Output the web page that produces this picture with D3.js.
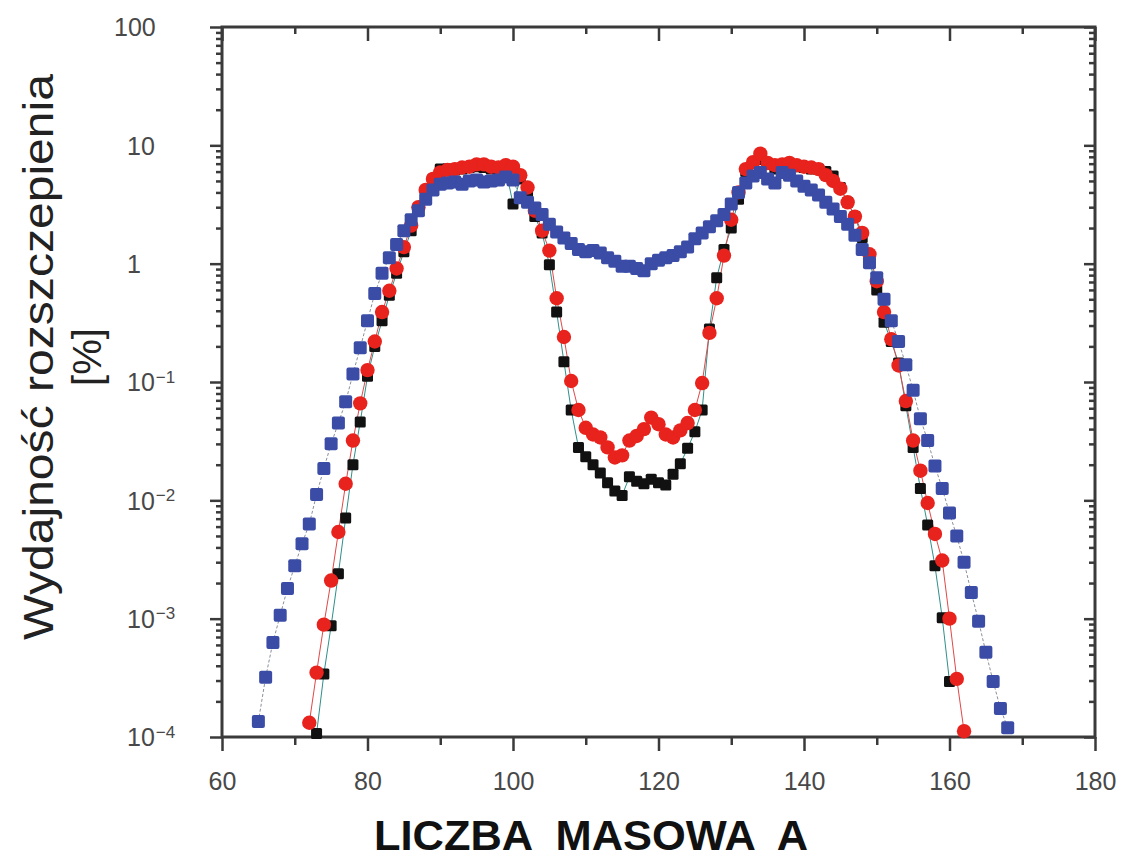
<!DOCTYPE html>
<html><head><meta charset="utf-8">
<script src="https://cdn.jsdelivr.net/npm/d3@7"></script>
<style>body{margin:0;background:#fff}svg{display:block}</style>
</head><body><svg id="c" width="1125" height="861"></svg>
<script>
// Mass number A for each series (one point per integer A)
const blueStart = 65;
const blueYield = [1.35e-4,3.2e-4,6.3e-4,1.07e-3,1.8e-3,2.8e-3,4.3e-3,6.3e-3,1.12e-2,1.86e-2,
  3.0e-2,4.5e-2,6.8e-2,0.117,0.195,0.33,0.56,0.83,1.12,1.45,
  1.9,2.35,2.8,3.5,4.2,4.7,4.8,4.9,4.7,5.0,
  5.1,4.9,5.0,5.1,5.4,5.1,3.6,3.3,2.95,2.6,
  2.15,1.85,1.65,1.48,1.32,1.26,1.29,1.23,1.12,1.05,
  0.95,0.95,0.91,0.87,1.0,1.07,1.12,1.17,1.26,1.38,
  1.62,1.82,2.05,2.3,2.6,3.2,4.0,4.8,5.5,5.9,
  5.2,4.8,5.9,5.6,5.0,4.5,4.2,3.8,3.3,2.9,
  2.5,2.15,1.74,1.32,1.02,0.76,0.50,0.33,0.22,0.14,
  0.085,0.049,0.032,0.0195,0.0126,0.0078,0.0050,0.0030,0.00166,0.00095,
  0.00052,0.000295,0.000174,0.00012];
const redStart = 72;
const redYield = [1.32e-4,3.5e-4,8.9e-4,2.1e-3,5.4e-3,1.38e-2,3.2e-2,6.6e-2,0.126,0.22,
  0.39,0.59,0.91,1.38,2.1,3.0,4.2,5.2,5.9,6.2,
  6.3,6.5,6.6,6.9,6.9,6.6,6.5,6.8,6.6,5.6,
  4.4,2.8,1.9,1.29,0.51,0.24,0.102,0.058,0.041,0.036,
  0.034,0.028,0.023,0.024,0.032,0.035,0.040,0.050,0.044,0.036,
  0.034,0.039,0.045,0.058,0.098,0.26,0.51,1.17,2.35,4.0,
  6.3,7.2,8.5,7.1,6.8,6.9,7.1,6.8,6.6,6.5,
  6.3,5.6,5.0,4.3,3.3,2.5,1.82,1.2,0.71,0.39,
  0.23,0.138,0.069,0.032,0.0178,0.0095,0.0052,0.0031,0.0010,0.00031,
  0.000112];
const blackStart = 73;
const blackYield = [1.07e-4,3.4e-4,8.7e-4,2.4e-3,7.1e-3,2.0e-2,4.6e-2,0.112,0.20,0.33,
  0.54,0.83,1.26,1.9,2.8,4.0,5.2,6.3,6.3,6.2,
  6.3,6.5,6.6,6.5,6.3,6.3,6.3,3.2,5.2,3.8,
  2.5,1.82,0.98,0.39,0.148,0.058,0.028,0.0234,0.020,0.017,
  0.0141,0.0120,0.0110,0.0158,0.0145,0.0138,0.0151,0.0141,0.0135,0.0166,
  0.0204,0.0275,0.038,0.058,0.28,0.76,1.32,2.0,3.5,6.0,
  7.1,7.6,6.9,6.3,6.6,6.8,6.6,6.5,6.3,6.3,
  6.0,5.5,4.4,3.3,2.5,1.66,1.07,0.60,0.32,0.22,
  0.145,0.063,0.028,0.0126,0.0062,0.0028,0.00102,0.000295];

const xMajor = [60,80,100,120,140,160,180];
const xMinor = [70,90,110,130,150,170];
const yDecades = [1e-4,1e-3,1e-2,1e-1,1,10,100];
const yLabels = [["10","-4"],["10","-3"],["10","-2"],["10","-1"],["1",""],["10",""],["100",""]];
const xTitle = "LICZBA  MASOWA  A";
const yTitle1 = "Wydajność rozszczepienia";
const yTitle2 = "[%]";

const toPts = (start, arr) => arr.map((v,i)=>({a:start+i, v}));
const blue = toPts(blueStart, blueYield);
const red = toPts(redStart, redYield);
const black = toPts(blackStart, blackYield);

const svg = d3.select("#c");
const L=222, R=1095, T=27, B=737;
const x = d3.scaleLinear().domain([60,180]).range([L,R]);
const y = d3.scaleLog().domain([1e-4,100]).range([B,T]);

const font = "'Liberation Sans', Arial, Helvetica, sans-serif";
const axisCol = "#3a3a3a";
const labCol = "#484848";

// minor log ticks
const yMinor = [];
for (let d=-4; d<2; d++) for (let k=2;k<=9;k++) yMinor.push(k*Math.pow(10,d));

function styleAxis(g){
  g.select(".domain").remove();
  g.selectAll(".tick line").attr("stroke",axisCol).attr("stroke-width",2.5);
}
// bottom
svg.append("g").attr("transform",`translate(0,${B})`)
  .call(d3.axisBottom(x).tickValues(xMajor).tickSize(14).tickPadding(21).tickFormat(d3.format("d")))
  .call(styleAxis)
  .call(g=>g.selectAll("text").attr("font-family",font).attr("font-size",25).attr("fill",labCol));
svg.append("g").attr("transform",`translate(0,${B})`)
  .call(d3.axisBottom(x).tickValues(xMinor).tickSize(8).tickFormat(""))
  .call(styleAxis);
// top (inward)
svg.append("g").attr("transform",`translate(0,${T})`)
  .call(d3.axisTop(x).tickValues(xMajor).tickSize(-14).tickFormat(""))
  .call(styleAxis);
svg.append("g").attr("transform",`translate(0,${T})`)
  .call(d3.axisTop(x).tickValues(xMinor).tickSize(-7).tickFormat(""))
  .call(styleAxis);
// left (outward)
const leftG = svg.append("g").attr("transform",`translate(${L},0)`)
  .call(d3.axisLeft(y).tickValues(yDecades).tickSize(12).tickFormat(""))
  .call(styleAxis);
svg.append("g").attr("transform",`translate(${L},0)`)
  .call(d3.axisLeft(y).tickValues(yMinor).tickSize(6).tickFormat(""))
  .call(styleAxis);
// right (inward)
svg.append("g").attr("transform",`translate(${R},0)`)
  .call(d3.axisRight(y).tickValues(yDecades).tickSize(-11).tickFormat(""))
  .call(styleAxis);
svg.append("g").attr("transform",`translate(${R},0)`)
  .call(d3.axisRight(y).tickValues(yMinor).tickSize(-6).tickFormat(""))
  .call(styleAxis);

// y tick labels with superscripts
leftG.selectAll(".tick").each(function(d){
  const lab = yLabels[yDecades.indexOf(d)];
  const t = d3.select(this).append("text")
    .attr("x", lab[0]==="100" ? -108 : -95).attr("y",0).attr("dy","0.35em")
    .attr("text-anchor","start").attr("font-family",font).attr("font-size",25).attr("fill",labCol);
  t.append("tspan").text(lab[0]);
  if (lab[1]) t.append("tspan").attr("font-size",17).attr("dx",1).attr("dy","-0.5em").text(lab[1].replace("-","\u2212"));
});

// frame
svg.append("rect").attr("x",L).attr("y",T).attr("width",R-L).attr("height",B-T)
  .attr("fill","none").attr("stroke",axisCol).attr("stroke-width",3);

const line = d3.line().x(d=>x(d.a)).y(d=>y(d.v));
const plot = svg.append("g");
plot.append("path").datum(black).attr("d",line).attr("fill","none").attr("stroke","#2f8f8a").attr("stroke-width",1);
plot.append("path").datum(red).attr("d",line).attr("fill","none").attr("stroke","#e04848").attr("stroke-width",1);
plot.append("path").datum(blue).attr("d",line).attr("fill","none").attr("stroke","#8a8f9a").attr("stroke-width",1).attr("stroke-dasharray","3,2");

plot.selectAll(".bk").data(black).join("rect").attr("class","bk")
  .attr("x",d=>x(d.a)-5.5).attr("y",d=>y(d.v)-5.5).attr("width",11).attr("height",11).attr("rx",1.5)
  .attr("fill","#111");
plot.selectAll(".rd").data(red).join("circle").attr("class","rd")
  .attr("cx",d=>x(d.a)).attr("cy",d=>y(d.v)).attr("r",7.2).attr("fill","#e8221c");
plot.selectAll(".bl").data(blue).join("rect").attr("class","bl")
  .attr("x",d=>x(d.a)-6.5).attr("y",d=>y(d.v)-6.5).attr("width",13).attr("height",13).attr("rx",2)
  .attr("fill","#3a4ca6");

// titles
svg.append("text").attr("transform","translate(53,357) rotate(-90)")
  .attr("text-anchor","middle").attr("font-family",font).attr("font-size",42).attr("fill","#222")
  .attr("textLength",566).attr("lengthAdjust","spacingAndGlyphs").text(yTitle1);
svg.append("text").attr("transform","translate(101,357) rotate(-90)")
  .attr("text-anchor","middle").attr("font-family",font).attr("font-size",40).attr("fill","#222").text(yTitle2);
svg.append("text").attr("x",591).attr("y",850).attr("text-anchor","middle")
  .style("white-space","pre")
  .attr("font-family",font).attr("font-weight","bold").attr("font-size",43).attr("fill","#111")
  .attr("textLength",434).attr("lengthAdjust","spacingAndGlyphs").text(xTitle);
</script></body></html>
